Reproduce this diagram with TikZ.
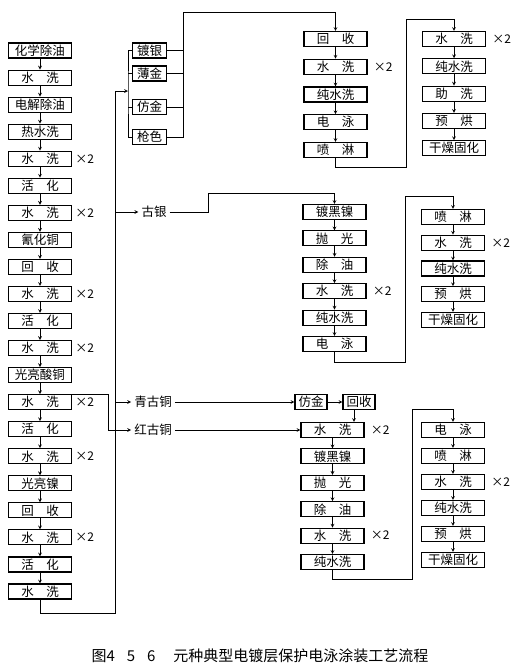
\documentclass[tikz,border=0pt]{standalone}
\usepackage{fontspec}
\newfontfamily\cjk{Noto Sans CJK SC}
\usepackage{tikz}
\usetikzlibrary{arrows, positioning, calc}
\newcommand{\twochar}[2]{#1\hspace{1em}#2}
\tikzset{
    base/.style={text centered, font=\cjk\fontsize{12.5}{14}\selectfont},
    stepbox/.style={base, rectangle, draw=black, line width=1.1pt, minimum width=63pt, minimum height=15pt, inner sep=1pt},
    smallbox/.style={stepbox, minimum width=34pt},
    tag/.style={base, inner sep=3pt},
    times/.style={base, inner sep=1pt, font=\cjk\fontsize{12}{14}\selectfont},
    arrow/.style={line width=0.7pt, ->, >=stealth},
    line/.style={line width=0.7pt}
}

\begin{document}
\begin{tikzpicture}[x=1pt, y=1pt, node distance=27.05pt]
    \useasboundingbox (0,0) rectangle (521,-670);

    % -- Main line: pretreatment, copper, nickel --
    \node (chem) [stepbox] at (40,-50.5) {化学除油};
    \node (w1) [stepbox, below of=chem] {\twochar{水}{洗}};
    \node (elec) [stepbox, below of=w1] {电解除油};
    \node (hot) [stepbox, below of=elec] {热水洗};
    \node (w2) [stepbox, below of=hot] {\twochar{水}{洗}};
    \node (act1) [stepbox, below of=w2] {\twochar{活}{化}};
    \node (w3) [stepbox, below of=act1] {\twochar{水}{洗}};
    \node (cucn) [stepbox, below of=w3] {氰化铜};
    \node (rec1) [stepbox, below of=cucn] {\twochar{回}{收}};
    \node (w4) [stepbox, below of=rec1] {\twochar{水}{洗}};
    \node (act2) [stepbox, below of=w4] {\twochar{活}{化}};
    \node (w5) [stepbox, below of=act2] {\twochar{水}{洗}};
    \node (acid) [stepbox, below of=w5] {光亮酸铜};
    \node (w6) [stepbox, below of=acid] {\twochar{水}{洗}};
    \node (act3) [stepbox, below of=w6] {\twochar{活}{化}};
    \node (w7) [stepbox, below of=act3] {\twochar{水}{洗}};
    \node (nick) [stepbox, below of=w7] {光亮镍};
    \node (rec2) [stepbox, below of=nick] {\twochar{回}{收}};
    \node (w8) [stepbox, below of=rec2] {\twochar{水}{洗}};
    \node (act4) [stepbox, below of=w8] {\twochar{活}{化}};
    \node (w9) [stepbox, below of=act4] {\twochar{水}{洗}};
    \node (w2x) [times, right=2pt of w2] {×2};
    \node (w3x) [times, right=2pt of w3] {×2};
    \node (w4x) [times, right=2pt of w4] {×2};
    \node (w5x) [times, right=2pt of w5] {×2};
    \node (w6x) [times, right=2pt of w6] {×2};
    \node (w7x) [times, right=2pt of w7] {×2};
    \node (w8x) [times, right=2pt of w8] {×2};

    \coordinate (top) at (115,-91);
    \coordinate (bot) at (115,-613);
    \coordinate (fork) at (128,-91);
    \coordinate (join) at (183,-12);

    % -- Top plating choices --
    \node (silver) [smallbox] at (149.5,-50.5) {镀银};
    \node (thin) [smallbox] at (149.5,-73.5) {薄金};
    \node (imit) [smallbox] at (149.5,-107) {仿金};
    \node (gun) [smallbox] at (149.5,-137) {枪色};

    % -- Branch A --
    \begin{scope}[node distance=27.75pt]
        \node (arec) [stepbox] at (335.5,-39) {\twochar{回}{收}};
        \node (awash) [stepbox, below of=arec] {\twochar{水}{洗}};
        \node (apure) [stepbox, below of=awash] {纯水洗};
        \node (aep) [stepbox, below of=apure] {\twochar{电}{泳}};
        \node (aspray) [stepbox, below of=aep] {\twochar{喷}{淋}};
    \end{scope}
    \begin{scope}[node distance=27.3pt]
        \node (awash2) [stepbox] at (454,-39) {\twochar{水}{洗}};
        \node (apure2) [stepbox, below of=awash2] {纯水洗};
        \node (aaid) [stepbox, below of=apure2] {\twochar{助}{洗}};
        \node (abake) [stepbox, below of=aaid] {\twochar{预}{烘}};
        \node (adry) [stepbox, below of=abake] {干燥固化};
    \end{scope}
    \node (awashx) [times, right=5pt of awash] {×2};
    \node (awash2x) [times, right=5pt of awash2] {×2};
    \coordinate (aturn) at (406,-19);

    % -- Branch B: old silver --
    \node (oldag) [tag] at (154,-212) {古银};
    \coordinate (bup) at (208,-193);
    \begin{scope}[node distance=26.4pt]
        \node (bnick) [stepbox] at (334.5,-212) {镀黑镍};
        \node (bpol) [stepbox, below of=bnick] {\twochar{抛}{光}};
        \node (bdeg) [stepbox, below of=bpol] {\twochar{除}{油}};
        \node (bwash) [stepbox, below of=bdeg] {\twochar{水}{洗}};
        \node (bpure) [stepbox, below of=bwash] {纯水洗};
        \node (bep) [stepbox, below of=bpure] {\twochar{电}{泳}};
    \end{scope}
    \begin{scope}[node distance=25.75pt]
        \node (bspray) [stepbox] at (453,-217) {\twochar{喷}{淋}};
        \node (bwash2) [stepbox, below of=bspray] {\twochar{水}{洗}};
        \node (bpure2) [stepbox, below of=bwash2] {纯水洗};
        \node (bbake) [stepbox, below of=bpure2] {\twochar{预}{烘}};
        \node (bdry) [stepbox, below of=bbake] {干燥固化};
    \end{scope}
    \node (bwashx) [times, right=5pt of bwash] {×2};
    \node (bwash2x) [times, right=5pt of bwash2] {×2};
    \coordinate (bturn) at (405,-196);

    % -- Branch C: old copper --
    \node (cyancu) [tag] at (153,-402) {青古铜};
    \node (redcu) [tag] at (153,-430) {红古铜};
    \node (cgold) [smallbox, minimum width=32pt] at (311,-402) {仿金};
    \node (crec) [smallbox, minimum width=32pt] at (359,-402) {回收};
    \begin{scope}[node distance=26.4pt]
        \node (cwash) [stepbox] at (332.5,-430) {\twochar{水}{洗}};
        \node (cnick) [stepbox, below of=cwash] {镀黑镍};
        \node (cpol) [stepbox, below of=cnick] {\twochar{抛}{光}};
        \node (cdeg) [stepbox, below of=cpol] {\twochar{除}{油}};
        \node (cwash2) [stepbox, below of=cdeg] {\twochar{水}{洗}};
        \node (cpure) [stepbox, below of=cwash2] {纯水洗};
    \end{scope}
    \begin{scope}[node distance=26pt]
        \node (cep) [stepbox] at (453,-430) {\twochar{电}{泳}};
        \node (cspray) [stepbox, below of=cep] {\twochar{喷}{淋}};
        \node (cwash3) [stepbox, below of=cspray] {\twochar{水}{洗}};
        \node (cpure2) [stepbox, below of=cwash3] {纯水洗};
        \node (cbake) [stepbox, below of=cpure2] {\twochar{预}{烘}};
        \node (cdry) [stepbox, below of=cbake] {干燥固化};
    \end{scope}
    \node (cwashx) [times, right=5pt of cwash] {×2};
    \node (cwash2x) [times, right=5pt of cwash2] {×2};
    \node (cwash3x) [times, right=5pt of cwash3] {×2};
    \coordinate (cturn) at (412,-409);

    \node (caption) [base, font=\cjk\fontsize{15}{16}\selectfont] at (260,-656) {图4\hspace{0.8em}5\hspace{0.8em}6\hspace{1.2em}元种典型电镀层保护电泳涂装工艺流程};

    % Connectors: main line
    \draw [arrow] (chem) -- (w1);
    \draw [arrow] (w1) -- (elec);
    \draw [arrow] (elec) -- (hot);
    \draw [arrow] (hot) -- (w2);
    \draw [arrow] (w2) -- (act1);
    \draw [arrow] (act1) -- (w3);
    \draw [arrow] (w3) -- (cucn);
    \draw [arrow] (cucn) -- (rec1);
    \draw [arrow] (rec1) -- (w4);
    \draw [arrow] (w4) -- (act2);
    \draw [arrow] (act2) -- (w5);
    \draw [arrow] (w5) -- (acid);
    \draw [arrow] (acid) -- (w6);
    \draw [arrow] (w6) -- (act3);
    \draw [arrow] (act3) -- (w7);
    \draw [arrow] (w7) -- (nick);
    \draw [arrow] (nick) -- (rec2);
    \draw [arrow] (rec2) -- (w8);
    \draw [arrow] (w8) -- (act4);
    \draw [arrow] (act4) -- (w9);
    \draw [line] (w9.south) |- (bot) -- (top);
    \draw [arrow] (top) -- (fork);

    % Connectors: top choices
    \draw [line] (silver.west) -| (fork) |- (gun.west);
    \draw [line] (thin.west) -- (thin.west -| fork);
    \draw [line] (imit.west) -- (imit.west -| fork);
    \draw [line] (silver.east) -- (silver.east -| join);
    \draw [line] (thin.east) -- (thin.east -| join);
    \draw [line] (imit.east) -- (imit.east -| join);
    \draw [arrow] (gun.east) -| (join) -| (arec.north);

    % Connectors: branch A
    \draw [arrow] (arec) -- (awash);
    \draw [arrow] (awash) -- (apure);
    \draw [arrow] (apure) -- (aep);
    \draw [arrow] (aep) -- (aspray);
    \draw [arrow] (aspray.south) -- ++(0,-9.5) -| (aturn) -| (awash2.north);
    \draw [arrow] (awash2) -- (apure2);
    \draw [arrow] (apure2) -- (aaid);
    \draw [arrow] (aaid) -- (abake);
    \draw [arrow] (abake) -- (adry);

    % Connectors: branch B
    \draw [arrow] (oldag.west -| top) -- (oldag);
    \draw [arrow] (oldag.east) -| (bup) -| (bnick.north);
    \draw [arrow] (bnick) -- (bpol);
    \draw [arrow] (bpol) -- (bdeg);
    \draw [arrow] (bdeg) -- (bwash);
    \draw [arrow] (bwash) -- (bpure);
    \draw [arrow] (bpure) -- (bep);
    \draw [arrow] (bep.south) -- ++(0,-10.5) -| (bturn) -| (bspray.north);
    \draw [arrow] (bspray) -- (bwash2);
    \draw [arrow] (bwash2) -- (bpure2);
    \draw [arrow] (bpure2) -- (bbake);
    \draw [arrow] (bbake) -- (bdry);

    % Connectors: branch C
    \draw [arrow] (cyancu.west -| top) -- (cyancu);
    \draw [arrow] (w6.north east) -- ++(36,0) |- (redcu);
    \draw [arrow] (cyancu) -- (cgold);
    \draw [arrow] (cgold) -- (crec);
    \draw [arrow] ([xshift=-5pt]crec.south) -- ([xshift=-5pt]crec.south |- cwash.north);
    \draw [arrow] (redcu) -- (cwash);
    \draw [arrow] (cwash) -- (cnick);
    \draw [arrow] (cnick) -- (cpol);
    \draw [arrow] (cpol) -- (cdeg);
    \draw [arrow] (cdeg) -- (cwash2);
    \draw [arrow] (cwash2) -- (cpure);
    \draw [arrow] (cpure.south) -- ++(0,-9.5) -| (cturn) -| (cep.north);
    \draw [arrow] (cep) -- (cspray);
    \draw [arrow] (cspray) -- (cwash3);
    \draw [arrow] (cwash3) -- (cpure2);
    \draw [arrow] (cpure2) -- (cbake);
    \draw [arrow] (cbake) -- (cdry);
\end{tikzpicture}
\end{document}
